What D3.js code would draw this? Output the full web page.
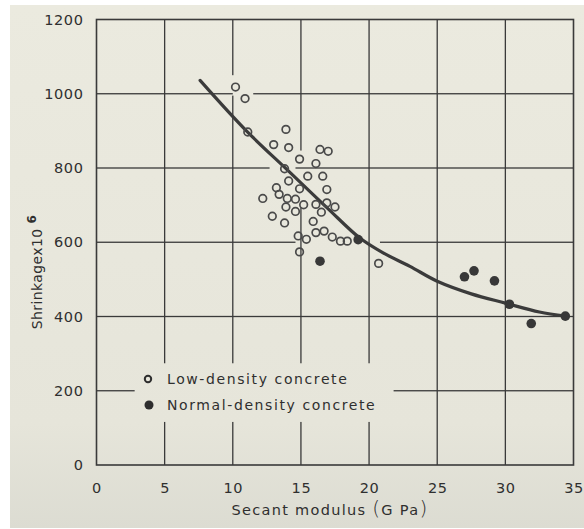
<!DOCTYPE html>
<html>
<head>
<meta charset="utf-8">
<script src="https://cdn.jsdelivr.net/npm/d3@7"></script>
<style>
  html, body { margin: 0; padding: 0; background: #ffffff; }
  svg { display: block; }
  text { font-family: "DejaVu Sans", sans-serif; fill: #2f2f2f; }
</style>
</head>
<body>
<script>
// Axis ticks
const xTicks = [0, 5, 10, 15, 20, 25, 30, 35];
const yTicks = [0, 200, 400, 600, 800, 1000, 1200];

// Low-density concrete: [secant modulus (GPa), shrinkage x10^-6]
const lowDensity = [
  [10.2, 1018], [10.9, 987], [11.1, 897], [13.9, 904], [13.0, 863],
  [14.1, 855], [16.4, 850], [17.0, 845], [14.9, 824], [16.1, 812],
  [13.8, 798], [15.5, 778], [16.6, 778], [14.1, 765], [13.2, 747],
  [14.9, 744], [16.9, 742], [13.4, 729], [12.2, 718], [14.0, 718],
  [14.6, 716], [15.2, 701], [16.1, 702], [16.9, 706], [17.5, 695],
  [13.9, 695], [14.6, 683], [16.5, 681], [12.9, 670], [13.8, 652],
  [15.9, 656], [16.1, 626], [16.7, 630], [14.8, 617], [15.4, 608],
  [17.3, 614], [17.9, 603], [18.4, 603], [14.9, 574], [20.7, 543]
];

// Normal-density concrete
const normalDensity = [
  [19.2, 607], [16.4, 549], [27.0, 507], [27.7, 523], [29.2, 496],
  [30.3, 433], [31.9, 381], [34.4, 401]
];

// Fitted trend
const trend = [
  [7.6, 1036], [11, 900], [14, 795], [17, 690], [19.3, 612], [21, 572],
  [23, 535], [25, 495], [27.5, 461], [30, 436], [32.5, 412], [34.4, 401]
];

// Breaks left in the grid lines (data units along each line)
const vGridBreaks = {
  5: [[116, 274]],
  10: [[116, 274], [995, 1050]],
  15: [[116, 274], [694, 847]],
  20: [[116, 274]]
};
const hGridBreaks = {
  200: [[2.8, 21.8]],
  600: [[14.6, 20.8]],
  800: [[12.7, 14.6]],
  1000: [[10.0, 11.5]]
};

const legendItems = [
  { label: "Low-density concrete", filled: false },
  { label: "Normal-density concrete", filled: true }
];

const W = 584, H = 529;
const plot = { left: 96.5, right: 573.5, top: 19.5, bottom: 465 };
const lineColor = "#3a3a3a";
const gridWidth = 1.3;

const svg = d3.select("body").append("svg").attr("width", W).attr("height", H);

// paper
const defs = svg.append("defs");
const grad = defs.append("linearGradient").attr("id", "paperFill")
  .attr("x1", 0).attr("y1", 0).attr("x2", 0).attr("y2", 1);
grad.append("stop").attr("offset", "0%").attr("stop-color", "#ebeadf");
grad.append("stop").attr("offset", "80%").attr("stop-color", "#e6e5da");
grad.append("stop").attr("offset", "100%").attr("stop-color", "#dcdcd2");
svg.append("rect").attr("x", 10).attr("y", 5).attr("width", W - 10).attr("height", H - 6)
  .attr("fill", "url(#paperFill)");

const x = d3.scaleLinear().domain([0, 35]).range([plot.left, plot.right]);
const y = d3.scaleLinear().domain([0, 1200]).range([plot.bottom, plot.top]);

// split a span into drawn pieces around its breaks
function pieces(lo, hi, breaks) {
  const out = [];
  let start = lo;
  const list = (breaks || []).slice().sort((a, b) => a[0] - b[0]);
  for (const br of list) {
    if (br[0] > start) out.push([start, br[0]]);
    start = Math.max(start, br[1]);
  }
  if (start < hi) out.push([start, hi]);
  return out;
}

// grid segments as thin filled bars
const gridSegs = [];
xTicks.slice(1, -1).forEach(v => {
  pieces(0, 1200, vGridBreaks[v]).forEach(p => gridSegs.push({ dir: "v", at: v, from: p[0], to: p[1] }));
});
yTicks.slice(1, -1).forEach(v => {
  pieces(0, 35, hGridBreaks[v]).forEach(p => gridSegs.push({ dir: "h", at: v, from: p[0], to: p[1] }));
});

svg.append("g")
  .selectAll("rect").data(gridSegs).join("rect")
  .attr("x", d => d.dir === "v" ? x(d.at) - gridWidth / 2 : x(d.from))
  .attr("y", d => d.dir === "v" ? y(d.to) : y(d.at) - gridWidth / 2)
  .attr("width", d => d.dir === "v" ? gridWidth : x(d.to) - x(d.from))
  .attr("height", d => d.dir === "v" ? y(d.from) - y(d.to) : gridWidth)
  .attr("fill", lineColor);

// frame
svg.append("rect")
  .attr("x", x(0)).attr("y", y(1200))
  .attr("width", x(35) - x(0)).attr("height", y(0) - y(1200))
  .attr("fill", "none").attr("stroke", lineColor).attr("stroke-width", 1.6);

// tick labels through d3 axes, with their lines hidden
const fmt = d3.format("d");
const xAxis = svg.append("g")
  .attr("transform", `translate(0,${plot.bottom})`)
  .call(d3.axisBottom(x).tickValues(xTicks).tickFormat(fmt).tickSize(0).tickPadding(18));
const yAxis = svg.append("g")
  .attr("transform", `translate(${plot.left},0)`)
  .call(d3.axisLeft(y).tickValues(yTicks).tickFormat(fmt).tickSize(0).tickPadding(13));
[xAxis, yAxis].forEach(g => {
  g.select(".domain").remove();
  g.selectAll(".tick line").remove();
  g.selectAll("text").attr("font-family", "DejaVu Sans, sans-serif")
    .attr("font-size", 14.5).attr("fill", "#303030").attr("letter-spacing", 0.6);
});

// x title
const xt = svg.append("text").attr("x", 330).attr("y", 515)
  .attr("text-anchor", "middle").attr("font-size", 14.5).attr("letter-spacing", 1.3);
xt.append("tspan").text("Secant modulus ");
xt.append("tspan").attr("font-size", 20).attr("font-weight", 300).text("(");
xt.append("tspan").text("G Pa");
xt.append("tspan").attr("font-size", 20).attr("font-weight", 300).text(")");

// y title
const yt = svg.append("text")
  .attr("transform", "translate(42,272) rotate(-90)")
  .attr("text-anchor", "middle").attr("font-size", 14).attr("letter-spacing", 0.4);
yt.append("tspan").text("Shrinkagex10 ");
yt.append("tspan").attr("dy", -6).attr("font-size", 12).attr("font-weight", "bold").text("6");

// trend curve
svg.append("path")
  .datum(trend)
  .attr("d", d3.line().x(d => x(d[0])).y(d => y(d[1])).curve(d3.curveCatmullRom))
  .attr("fill", "none").attr("stroke", "#3b3b3b").attr("stroke-width", 3.2)
  .attr("stroke-linecap", "round");

// points
svg.append("g").selectAll("circle").data(lowDensity).join("circle")
  .attr("cx", d => x(d[0])).attr("cy", d => y(d[1])).attr("r", 3.8)
  .attr("fill", "none").attr("stroke", "#4a4a4a").attr("stroke-width", 1.7);
svg.append("g").selectAll("circle").data(normalDensity).join("circle")
  .attr("cx", d => x(d[0])).attr("cy", d => y(d[1])).attr("r", 4.8)
  .attr("fill", "#383838");

// legend
const lg = svg.append("g").attr("transform", "translate(148,379)");
legendItems.forEach((it, i) => {
  const row = lg.append("g").attr("transform", `translate(0,${i * 26})`);
  if (it.filled) {
    row.append("circle").attr("r", 4.5).attr("cx", 1).attr("fill", "#2e2e2e");
  } else {
    row.append("circle").attr("r", 3.2).attr("fill", "none")
      .attr("stroke", "#2e2e2e").attr("stroke-width", 2);
  }
  row.append("text").attr("x", 19).attr("dy", "0.36em")
    .attr("font-size", 14).attr("letter-spacing", 1.6).text(it.label);
});
</script>
</body>
</html>
